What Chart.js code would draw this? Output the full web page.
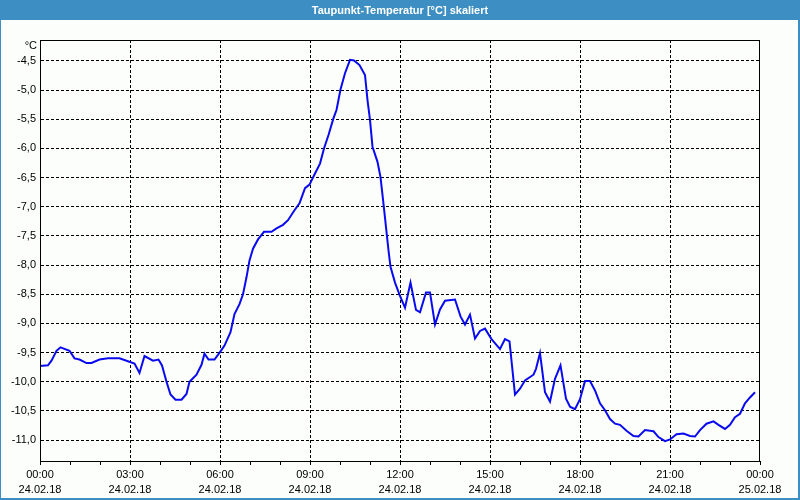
<!DOCTYPE html>
<html>
<head>
<meta charset="utf-8">
<script src="https://cdn.jsdelivr.net/npm/chart.js@4"></script>
<style>
  html, body { margin: 0; padding: 0; background: #fcfefc; }
  #wrap { width: 800px; height: 500px; }
</style>
</head>
<body>
<div id="wrap"><canvas id="dewChart" width="800" height="500"></canvas></div>
<script>
// Taupunkt 24.02.18 – minutes since 00:00 and values in °C
const minutes = [
  0, 16, 23, 33, 41, 59, 69, 79, 93, 103, 119, 136, 159, 173, 189, 199, 209, 226, 237, 244,
  253, 261, 271, 283, 293, 299, 313, 323, 329, 337, 349, 361, 369, 381, 389, 399, 406, 413, 419, 426,
  436, 448, 463, 473, 486, 496, 509, 519, 530, 539, 550, 560, 568, 577, 587, 593, 601, 610, 620, 628,
  639, 650, 655, 660, 665, 675, 681, 687, 692, 697, 701, 710, 720, 730, 741, 752, 760, 772, 780, 790,
  800, 810, 830, 841, 850, 860, 870, 880, 890, 903, 920, 930, 939, 950, 960, 970, 987, 992, 1000, 1010,
  1020, 1030, 1041, 1052, 1060, 1070, 1080, 1090, 1100, 1110, 1120, 1130, 1140, 1150, 1160, 1173, 1187, 1197, 1210, 1227,
  1237, 1250, 1260, 1273, 1287, 1300, 1310, 1320, 1333, 1347, 1357, 1370, 1380, 1390, 1400, 1410, 1420, 1430
];
const dewPoint = [
  -9.73, -9.72, -9.64, -9.47, -9.41, -9.47, -9.60, -9.62, -9.68, -9.68, -9.62, -9.60, -9.60, -9.64, -9.69, -9.85, -9.56, -9.64, -9.62, -9.72,
  -10.00, -10.22, -10.31, -10.31, -10.21, -10.00, -9.88, -9.71, -9.52, -9.62, -9.62, -9.48, -9.38, -9.15, -8.84, -8.67, -8.50, -8.21, -7.92, -7.72,
  -7.56, -7.43, -7.43, -7.37, -7.31, -7.23, -7.06, -6.94, -6.68, -6.62, -6.43, -6.26, -6.00, -5.77, -5.48, -5.34, -4.99, -4.71, -4.48, -4.49,
  -4.57, -4.74, -5.17, -5.51, -5.97, -6.23, -6.49, -6.95, -7.35, -7.75, -8.03, -8.30, -8.53, -8.73, -8.30, -8.77, -8.81, -8.47, -8.47, -9.02,
  -8.76, -8.61, -8.59, -8.88, -9.02, -8.85, -9.26, -9.13, -9.09, -9.27, -9.44, -9.27, -9.31, -10.22, -10.12, -9.98, -9.88, -9.78, -9.51, -10.18,
  -10.34, -9.95, -9.72, -10.29, -10.43, -10.47, -10.30, -9.99, -9.99, -10.15, -10.37, -10.49, -10.64, -10.72, -10.74, -10.84, -10.93, -10.94, -10.83, -10.85,
  -10.95, -11.02, -10.99, -10.90, -10.89, -10.93, -10.94, -10.83, -10.72, -10.68, -10.74, -10.81, -10.74, -10.61, -10.55, -10.37, -10.27, -10.18
];
const yTicks = [-11, -10.5, -10, -9.5, -9, -8.5, -8, -7.5, -7, -6.5, -6, -5.5, -5, -4.5];
const titleText = 'Taupunkt-Temperatur [°C] skaliert';
const unitText = '°C';

const BLUE = '#3d8fc3';
const FONT = '"Liberation Sans", Arial, sans-serif';

const framePlugin = {
  id: 'frame',
  beforeDraw(chart) {
    const c = chart.ctx;
    c.save();
    c.fillStyle = '#fcfefc';
    c.fillRect(0, 0, chart.width, chart.height);
    c.restore();
  },
  afterDraw(chart) {
    const c = chart.ctx;
    const a = chart.chartArea;
    c.save();
    // window frame + title bar
    c.fillStyle = BLUE;
    c.fillRect(0, 0, chart.width, 20);
    c.fillRect(0, 0, 1, chart.height);
    c.fillRect(chart.width - 2, 0, 2, chart.height);
    c.fillRect(0, chart.height - 2, chart.width, 2);
    c.fillStyle = '#ffffff';
    c.font = 'bold 11px ' + FONT;
    c.textAlign = 'center';
    c.textBaseline = 'middle';
    c.fillText(titleText, chart.width / 2, 11);
    // plot box
    c.strokeStyle = '#000';
    c.lineWidth = 1;
    c.strokeRect(Math.round(a.left) + 0.5, Math.round(a.top) + 0.5,
      Math.round(a.right - a.left) - 1, Math.round(a.bottom - a.top));
    // unit label
    c.fillStyle = '#000';
    c.font = '11px ' + FONT;
    c.textAlign = 'right';
    c.fillText(unitText, a.left - 3, a.top + 6);
    c.restore();
  }
};

const ctx = document.getElementById('dewChart');

new Chart(ctx, {
  type: 'line',
  data: {
    datasets: [{
      label: 'Taupunkt',
      data: minutes.map((m, i) => ({ x: m, y: dewPoint[i] })),
      borderColor: '#0a0af0',
      borderWidth: 2,
      pointRadius: 0,
      tension: 0,
      fill: false
    }]
  },
  plugins: [framePlugin],
  options: {
    responsive: false,
    animation: false,
    layout: { padding: { top: 40, right: 40, left: 0, bottom: 0 } },
    plugins: { legend: { display: false }, tooltip: { enabled: false } },
    scales: {
      x: {
        type: 'linear',
        min: 0,
        max: 1440,
        afterFit(scale) { scale.height = 39; },
        ticks: {
          stepSize: 60,
          autoSkip: false,
          maxRotation: 0,
          padding: 3,
          color: '#000',
          font: { family: FONT, size: 11, lineHeight: 1.35 },
          callback(v) {
            if (v % 180 !== 0) return '';
            const h = (v / 60) % 24;
            const day = 24 + Math.floor(v / 1440);
            return [String(h).padStart(2, '0') + ':00', day + '.02.18'];
          }
        },
        grid: {
          color: c => (c.tick && c.tick.value % 180 === 0 && c.tick.value > 0 && c.tick.value < 1440) ? '#000' : 'rgba(0,0,0,0)',
          tickColor: '#000',
          tickBorderDash: [],
          tickLength: 4
        },
        border: { color: '#000', width: 1, dash: [3, 2] }
      },
      y: {
        min: -11.36,
        max: -4.14,
        afterFit(scale) { scale.width = 40; },
        afterBuildTicks(scale) { scale.ticks = yTicks.map(v => ({ value: v })); },
        ticks: {
          padding: 4,
          color: '#000',
          font: { family: FONT, size: 11 },
          callback: v => v.toFixed(1).replace('.', ',')
        },
        grid: {
          color: '#000',
          drawTicks: false
        },
        border: { color: '#000', width: 1, dash: [3, 2] }
      }
    }
  }
});
</script>
</body>
</html>
